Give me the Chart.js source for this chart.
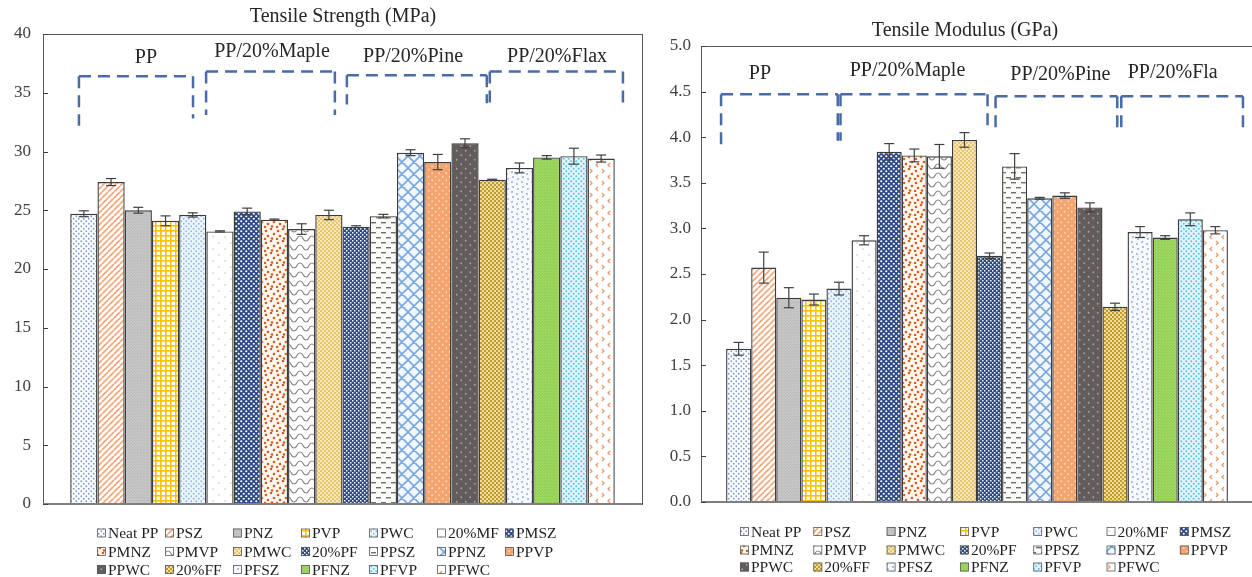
<!DOCTYPE html>
<html>
<head>
<meta charset="utf-8">
<script src="https://cdn.jsdelivr.net/npm/chart.js@4.4.0/dist/chart.umd.min.js"></script>
<style>
    html, body { margin: 0; padding: 0; background: #fff; overflow: hidden; width: 1252px; height: 577px; }
    .panel { position: absolute; top: 0; height: 577px; }
    #leftPanel { left: 0; width: 650px; }
    #rightPanel { left: 650px; width: 610px; }
</style>
</head>
<body>
<div class="panel" id="leftPanel"><canvas id="strengthChart"></canvas></div>
<div class="panel" id="rightPanel"><canvas id="modulusChart"></canvas></div>
<script>
// Data
const sampleNames = ['Neat PP', 'PSZ', 'PNZ', 'PVP', 'PWC', '20%MF', 'PMSZ', 'PMNZ', 'PMVP', 'PMWC',
    '20%PF', 'PPSZ', 'PPNZ', 'PPVP', 'PPWC', '20%FF', 'PFSZ', 'PFNZ', 'PFVP', 'PFWC'];
const strengthValues = [24.7, 27.4, 25.0, 24.1, 24.6, 23.2, 24.9, 24.2, 23.4, 24.6,
    23.6, 24.5, 29.9, 29.1, 30.7, 27.6, 28.6, 29.5, 29.6, 29.4];
const strengthErrors = [0.25, 0.3, 0.25, 0.42, 0.18, 0.05, 0.28, 0.05, 0.45, 0.4,
    0.08, 0.15, 0.25, 0.65, 0.38, 0.04, 0.42, 0.15, 0.68, 0.3];
const modulusValues = [1.68, 2.57, 2.24, 2.22, 2.34, 2.87, 3.84, 3.80, 3.79, 3.97,
    2.70, 3.68, 3.33, 3.36, 3.23, 2.14, 2.96, 2.90, 3.10, 2.98];
const modulusErrors = [0.07, 0.17, 0.11, 0.06, 0.07, 0.05, 0.09, 0.07, 0.13, 0.08,
    0.03, 0.14, 0.01, 0.03, 0.05, 0.04, 0.06, 0.02, 0.07, 0.04];
const strengthGroups = ['PP', 'PP/20%Maple', 'PP/20%Pine', 'PP/20%Flax'];
const modulusGroups = ['PP', 'PP/20%Maple', 'PP/20%Pine', 'PP/20%Fla'];

const serif = "'Liberation Serif', 'Times New Roman', serif";

// ---- fill patterns ----
function tile(w, h, bg, draw) {
    const c = document.createElement('canvas');
    c.width = w; c.height = h;
    const g = c.getContext('2d');
    g.fillStyle = bg;
    g.fillRect(0, 0, w, h);
    draw(g);
    return c;
}
function dotTile(bg, fg, s, r) {
    return tile(s, s, bg, g => {
        g.fillStyle = fg;
        [[s / 4, s / 4], [3 * s / 4, 3 * s / 4]].forEach(([x, y]) => {
            g.beginPath(); g.arc(x, y, r, 0, Math.PI * 2); g.fill();
        });
    });
}
function spotTile(bg, fg, s, pts, r) {
    return tile(s, s, bg, g => {
        g.fillStyle = fg;
        pts.forEach(([x, y]) => { g.beginPath(); g.arc(x, y, r, 0, Math.PI * 2); g.fill(); });
    });
}
function stripeTile(bg, fg, s, lw) {
    return tile(s, s, bg, g => {
        g.strokeStyle = fg; g.lineWidth = lw; g.beginPath();
        [-s, 0, s].forEach(o => { g.moveTo(o, s); g.lineTo(o + s, 0); });
        g.stroke();
    });
}
function hatchTile(bg, fg, s, lw) {
    return tile(s, s, bg, g => {
        g.strokeStyle = fg; g.lineWidth = lw; g.beginPath();
        [-s, 0, s].forEach(o => { g.moveTo(o, s); g.lineTo(o + s, 0); g.moveTo(o, 0); g.lineTo(o + s, s); });
        g.stroke();
    });
}
function gridTile(bg, fg, s, lw) {
    return tile(s, s, bg, g => { g.fillStyle = fg; g.fillRect(0, 0, s, lw); g.fillRect(0, 0, lw, s); });
}
function checkTile(bg, fg, s, q) {
    return tile(s, s, bg, g => { g.fillStyle = fg; g.fillRect(0, 0, q, q); g.fillRect(s / 2, s / 2, q, q); });
}
function dashTile(bg, fg) {
    return tile(10, 10, bg, g => {
        g.fillStyle = fg;
        g.fillRect(1, 2, 5, 1.4); g.fillRect(6, 7, 5, 1.4); g.fillRect(-4, 7, 5, 1.4);
    });
}
function waveTile(bg, fg) {
    return tile(12, 9, bg, g => {
        g.strokeStyle = fg; g.lineWidth = 1.2; g.beginPath();
        g.moveTo(0, 2); g.bezierCurveTo(4, 2, 2, 7, 6, 7); g.bezierCurveTo(10, 7, 8, 2, 12, 2);
        g.stroke();
    });
}
function chevronTile(bg, fg) {
    return tile(12, 12, bg, g => {
        g.strokeStyle = fg; g.lineWidth = 1.3; g.beginPath();
        g.moveTo(2, 1); g.lineTo(4, 3); g.lineTo(2, 5);
        g.moveTo(10, 7); g.lineTo(8, 9); g.lineTo(10, 11);
        g.stroke();
    });
}

function makePatterns(ctx) {
    const tiles = [
        dotTile('#ffffff', '#7c9bd2', 5, 0.9),
        stripeTile('#ffffff', '#f2a679', 6, 1.6),
        dotTile('#c8c8c8', '#adadad', 3, 0.6),
        gridTile('#ffffff', '#ffc000', 5, 1.6),
        dotTile('#eef6fd', '#8db8e6', 5, 0.9),
        dotTile('#ffffff', '#c4c4c4', 12, 0.8),
        dotTile('#2c4887', '#ffffff', 5, 1.1),
        spotTile('#fff6ef', '#cf5f22', 12, [[2, 3], [7, 1], [10, 6], [4, 8], [8, 10.5], [1, 11]], 1.3),
        waveTile('#ffffff', '#8a8a8a'),
        dotTile('#e7c672', '#fff6dc', 4, 0.9),
        checkTile('#2c4887', '#ffffff', 4, 1.5),
        dashTile('#fbfcf8', '#6f6f6f'),
        hatchTile('#f0f7fe', '#7aa7dc', 12, 1.6),
        dotTile('#f4a46e', '#fbd9bf', 7, 0.9),
        dotTile('#625c5c', '#a8a0a0', 9, 0.9),
        dotTile('#c29a2a', '#fff3c8', 4, 1.0),
        spotTile('#f6f9fd', '#8ea8d2', 10, [[2, 2], [7, 4], [3, 7], [8, 9]], 0.9),
        dotTile('#92d050', '#b9e38e', 3, 0.6),
        dotTile('#e3f4fb', '#5dc2ea', 5, 1.0),
        chevronTile('#ffffff', '#ec9a68')
    ];
    return tiles.map(t => ctx.createPattern(t, 'repeat'));
}

// ---- frame, ticks, error bars, brackets, titles, legend ----
function decorPlugin(cfg) {
    return {
        id: 'decor',
        afterDatasetsDraw(chart) {
            const { ctx, chartArea: a } = chart;
            const y = chart.scales.y;
            const slot = (a.right - a.left) / 22;
            const px = p => a.left + slot * (1 + p);
            const seg = (x1, y1, x2, y2) => { ctx.beginPath(); ctx.moveTo(x1, y1); ctx.lineTo(x2, y2); ctx.stroke(); };
            ctx.save();

            // plot frame
            ctx.strokeStyle = '#595959'; ctx.lineWidth = 1;
            ctx.strokeRect(a.left + 0.5, a.top + 0.5, a.right - a.left, a.bottom - a.top);
            ctx.strokeStyle = '#7f7f7f'; ctx.lineWidth = 2;
            seg(a.left, a.bottom, a.right, a.bottom);
            ctx.strokeStyle = '#404040'; ctx.lineWidth = 1;
            y.ticks.forEach(t => {
                const yy = Math.round(y.getPixelForValue(t.value)) + 0.5;
                seg(a.left, yy, a.left + 5, yy);
            });

            // error bars
            ctx.strokeStyle = '#404040'; ctx.lineWidth = 1.2;
            chart.data.datasets.forEach((ds, i) => {
                const bar = chart.getDatasetMeta(i).data[0];
                const v = ds.data[0], e = cfg.errors[i];
                const yt = y.getPixelForValue(v + e), yb = y.getPixelForValue(v - e);
                seg(bar.x, yt, bar.x, yb);
                seg(bar.x - 5, yt, bar.x + 5, yt);
                seg(bar.x - 5, yb, bar.x + 5, yb);
            });

            // dashed group brackets
            ctx.strokeStyle = '#4a6aa8'; ctx.lineWidth = 2.5; ctx.setLineDash([12, 7]);
            cfg.brackets.forEach(b => {
                const x1 = px(b.from), x2 = px(b.to), yt = y.getPixelForValue(b.top);
                seg(x1, yt, x2, yt);
                seg(x1, yt, x1, y.getPixelForValue(b.leftEnd));
                seg(x2, yt, x2, y.getPixelForValue(b.rightEnd));
            });
            ctx.setLineDash([]);

            // group labels
            ctx.fillStyle = '#262626'; ctx.font = '20px ' + serif;
            ctx.textAlign = 'center'; ctx.textBaseline = 'middle';
            cfg.groups.forEach((g, i) => ctx.fillText(cfg.groupNames[i], px(g.at), y.getPixelForValue(g.value)));

            // title
            ctx.fillText(cfg.title.text, cfg.title.x, cfg.title.y);

            // legend in a 7-column grid
            const L = cfg.legend;
            ctx.font = '15.5px ' + serif; ctx.textAlign = 'left';
            chart.data.datasets.forEach((ds, i) => {
                const bx = L.x + (i % 7) * L.pitch, by = L.rows[Math.floor(i / 7)];
                ctx.fillStyle = ds.backgroundColor;
                ctx.fillRect(bx, by - 4.5, 9, 9);
                ctx.strokeStyle = '#595959'; ctx.lineWidth = 0.8;
                ctx.strokeRect(bx + 0.5, by - 4, 8, 8);
                ctx.fillStyle = '#1e1e1e';
                ctx.fillText(ds.label, bx + 11, by + 1);
            });
            ctx.restore();
        }
    };
}

function buildChart(canvasId, values, cfg) {
    const canvas = document.getElementById(canvasId);
    const ctx = canvas.getContext('2d');
    const patterns = makePatterns(ctx);
    return new Chart(ctx, {
        type: 'bar',
        data: {
            labels: [''],
            datasets: sampleNames.map((name, i) => ({
                label: name,
                data: [values[i]],
                backgroundColor: patterns[i],
                borderColor: '#3c3c3c',
                borderWidth: 1.4,
                categoryPercentage: 20 / 22,
                barPercentage: 1
            }))
        },
        options: {
            responsive: true,
            maintainAspectRatio: false,
            animation: false,
            layout: { padding: cfg.padding },
            plugins: { legend: { display: false }, tooltip: { enabled: false }, title: { display: false } },
            scales: {
                x: { display: false },
                y: {
                    min: 0, max: cfg.max,
                    grid: { display: false, drawTicks: false },
                    border: { display: false },
                    ticks: {
                        stepSize: cfg.step, padding: cfg.tickPad, color: '#404040',
                        font: { family: serif, size: 17 },
                        callback: cfg.tickFormat
                    },
                    afterFit: s => { s.width = cfg.axisWidth; }
                }
            }
        },
        plugins: [decorPlugin(cfg)]
    });
}

document.addEventListener('DOMContentLoaded', function () {

    // 1. Tensile Strength (MPa)
    buildChart('strengthChart', strengthValues, {
        max: 40, step: 5, tickPad: 12, axisWidth: 43,
        tickFormat: v => v,
        padding: { left: 0, right: 8, top: 34, bottom: 73 },
        errors: strengthErrors,
        groupNames: strengthGroups,
        title: { text: 'Tensile Strength (MPa)', x: 343, y: 17 },
        brackets: [
            { from: 0.32, to: 4.51, top: 36.4, leftEnd: 32.2, rightEnd: 32.8 },
            { from: 4.99, to: 9.72, top: 36.8, leftEnd: 33.1, rightEnd: 33.1 },
            { from: 10.16, to: 15.3, top: 36.5, leftEnd: 34.0, rightEnd: 34.1 },
            { from: 15.41, to: 20.3, top: 36.8, leftEnd: 34.0, rightEnd: 34.1 }
        ],
        groups: [
            { at: 2.78, value: 38.0 }, { at: 7.41, value: 38.5 },
            { at: 12.59, value: 38.1 }, { at: 17.88, value: 38.1 }
        ],
        legend: { x: 97, pitch: 68, rows: [533, 551.5, 569.5] }
    });

    // 2. Tensile Modulus (GPa) - plot runs just past the right edge of the page
    buildChart('modulusChart', modulusValues, {
        max: 5, step: 0.5, tickPad: 10, axisWidth: 51,
        tickFormat: v => v.toFixed(1),
        padding: { left: 0, right: 7, top: 46, bottom: 75 },
        errors: modulusErrors,
        groupNames: modulusGroups,
        title: { text: 'Tensile Modulus (GPa)', x: 315, y: 31 },
        brackets: [
            { from: -0.2, to: 4.45, top: 4.47, leftEnd: 3.89, rightEnd: 3.96 },
            { from: 4.56, to: 10.42, top: 4.47, leftEnd: 3.96, rightEnd: 4.09 },
            { from: 10.74, to: 15.59, top: 4.45, leftEnd: 4.09, rightEnd: 4.09 },
            { from: 15.75, to: 20.6, top: 4.45, leftEnd: 4.09, rightEnd: 4.09 }
        ],
        groups: [
            { at: 1.35, value: 4.70 }, { at: 7.23, value: 4.73 },
            { at: 13.32, value: 4.69 }, { at: 17.8, value: 4.71 }
        ],
        legend: { x: 90, pitch: 73.3, rows: [531.5, 550, 567] }
    });

});
</script>
</body>
</html>
